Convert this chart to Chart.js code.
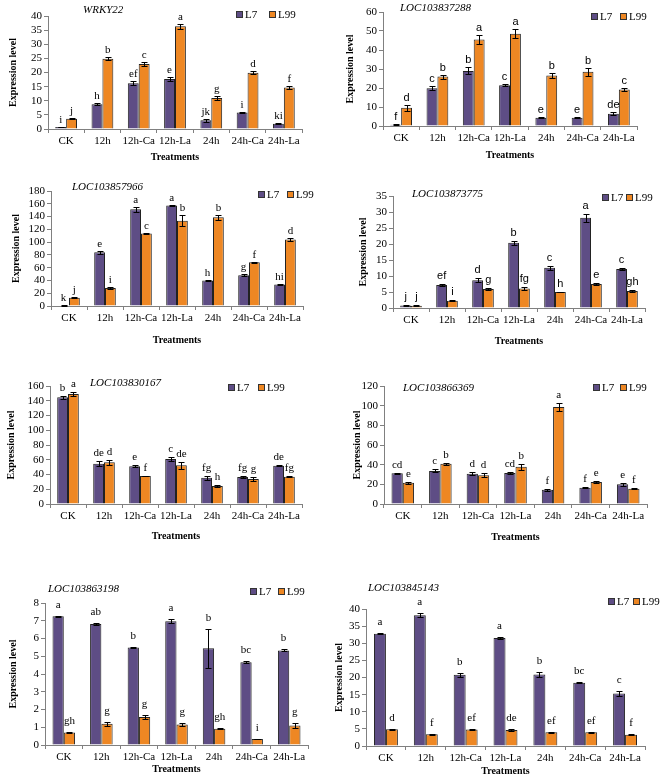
<!DOCTYPE html>
<html>
<head>
<meta charset="utf-8">
<script src="https://cdn.jsdelivr.net/npm/chart.js@4.4.0/dist/chart.umd.min.js"></script>
<style>
  html, body { margin: 0; padding: 0; background: #fff; }
  body { width: 669px; height: 780px; position: relative; overflow: hidden; }
  canvas { position: absolute; }
</style>
</head>
<body>
<script>
// treatments on every x axis
const categories = ['CK', '12h', '12h-Ca', '12h-La', '24h', '24h-Ca', '24h-La'];
const seriesNames = ['L7', 'L99'];

// WRKY22
const wrkyL7 = [0.7, 8.8, 16.2, 17.7, 3.1, 5.8, 1.9];
const wrkyL99 = [3.6, 24.9, 23.0, 36.4, 11.0, 19.9, 14.7];
const wrkyErrL7 = [0.1, 0.4, 0.8, 0.8, 0.6, 0.3, 0.1];
const wrkyErrL99 = [0.2, 0.6, 0.8, 0.9, 0.7, 0.6, 0.6];
const wrkySigL7 = ['i', 'h', 'ef', 'e', 'jk', 'i', 'ki'];
const wrkySigL99 = ['j', 'b', 'c', 'a', 'g', 'd', 'f'];

// LOC103837288
const loc288L7 = [0.7, 19.9, 29.0, 21.5, 4.4, 4.4, 6.5];
const loc288L99 = [9.6, 26.0, 45.5, 48.6, 26.6, 28.5, 19.2];
const loc288ErrL7 = [0.1, 1.2, 1.8, 0.4, 0.1, 0.2, 0.8];
const loc288ErrL99 = [1.5, 1.1, 2.5, 2.2, 1.1, 2.0, 0.8];
const loc288SigL7 = ['f', 'c', 'b', 'c', 'e', 'e', 'de'];
const loc288SigL99 = ['d', 'b', 'a', 'a', 'b', 'b', 'c'];

// LOC103857966
const loc966L7 = [0.8, 84, 151.5, 157.5, 40, 48, 33.5];
const loc966L99 = [13, 28, 113.5, 133.5, 139, 68.5, 104];
const loc966ErrL7 = [0.3, 2, 4, 1, 1, 1.5, 1];
const loc966ErrL99 = [1, 1, 1, 9, 4, 1, 3];
const loc966SigL7 = ['k', 'e', 'a', 'a', 'h', 'g', 'hi'];
const loc966SigL99 = ['j', 'i', 'c', 'b', 'b', 'f', 'd'];

// LOC103873775
const loc775L7 = [0.8, 7.2, 8.7, 20.4, 12.6, 28.2, 12.2];
const loc775L99 = [0.7, 2.3, 5.9, 6.1, 5.0, 7.5, 5.3];
const loc775ErrL7 = [0.1, 0.3, 0.6, 0.6, 0.6, 1.2, 0.2];
const loc775ErrL99 = [0.1, 0.05, 0.4, 0.4, 0.05, 0.3, 0.4];
const loc775SigL7 = ['j', 'ef', 'd', 'b', 'c', 'a', 'c'];
const loc775SigL99 = ['j', 'i', 'g', 'fg', 'h', 'e', 'gh'];

// LOC103830167
const loc167L7 = [144.6, 54.7, 51.1, 61.0, 35.7, 36.6, 52.0];
const loc167L99 = [149.2, 56.5, 38.0, 52.4, 24.4, 33.9, 37.1];
const loc167ErrL7 = [2, 3, 1.5, 3, 2.5, 1, 1];
const loc167ErrL99 = [2.5, 3, 0.5, 5, 1, 2.5, 0.5];
const loc167SigL7 = ['b', 'de', 'e', 'c', 'fg', 'fg', 'de'];
const loc167SigL99 = ['a', 'd', 'f', 'de', 'h', 'g', 'fg'];

// LOC103866369
const loc369L7 = [31.2, 33.6, 30.8, 31.5, 14.6, 16.6, 20.0];
const loc369L99 = [21.7, 41.0, 29.2, 38.0, 98.6, 22.4, 15.6];
const loc369ErrL7 = [0.8, 1.5, 1.5, 1, 1, 0.3, 1.5];
const loc369ErrL99 = [1, 1, 2, 3, 4, 1, 0.3];
const loc369SigL7 = ['cd', 'c', 'd', 'cd', 'f', 'f', 'e'];
const loc369SigL99 = ['e', 'b', 'd', 'b', 'a', 'e', 'f'];

// LOC103863198
const loc198L7 = [7.25, 6.82, 5.50, 6.97, 5.45, 4.66, 5.33];
const loc198L99 = [0.71, 1.2, 1.58, 1.15, 0.92, 0.34, 1.1];
const loc198ErrL7 = [0.02, 0.06, 0.01, 0.12, 1.1, 0.05, 0.06];
const loc198ErrL99 = [0.03, 0.12, 0.1, 0.08, 0.03, 0.02, 0.12];
const loc198SigL7 = ['a', 'ab', 'b', 'a', 'b', 'bc', 'b'];
const loc198SigL99 = ['gh', 'g', 'g', 'g', 'gh', 'i', 'g'];

// LOC103845143
const loc143L7 = [32.8, 38.2, 20.8, 31.5, 20.9, 18.5, 15.3];
const loc143L99 = [4.9, 3.4, 4.8, 4.7, 4.0, 4.0, 3.3];
const loc143ErrL7 = [0.2, 0.6, 0.6, 0.3, 0.8, 0.05, 0.8];
const loc143ErrL99 = [0.2, 0.2, 0.1, 0.4, 0.2, 0.2, 0.1];
const loc143SigL7 = ['a', 'a', 'b', 'a', 'b', 'bc', 'c'];
const loc143SigL99 = ['d', 'f', 'ef', 'de', 'ef', 'ef', 'f'];

const purple = 'rgb(94, 77, 133)';
const orange = 'rgb(238, 135, 35)';
const axisColor = '#808080';
const serif = "'Liberation Serif', 'Times New Roman', serif";
const sans = "'Liberation Sans', Arial, sans-serif";

// one entry per panel: gene data + where it sits on the page
const panels = [
  { gene: 'WRKY22', data: [wrkyL7, wrkyL99], err: [wrkyErrL7, wrkyErrL99], sig: [wrkySigL7, wrkySigL99],
    max: 40, step: 5, canvas: [0, 0, 335, 163], plot: [48, 16, 302, 129], yTitleX: 13,
    title: [83, 10], legend: [236, 269, 14], gap: 5, sigFont: serif },
  { gene: 'LOC103837288', data: [loc288L7, loc288L99], err: [loc288ErrL7, loc288ErrL99], sig: [loc288SigL7, loc288SigL99],
    max: 60, step: 10, canvas: [335, 0, 334, 161], plot: [383, 12, 637, 126], yTitleX: 350,
    title: [400, 8], legend: [591, 620, 16], gap: 5, sigFont: sans },
  { gene: 'LOC103857966', data: [loc966L7, loc966L99], err: [loc966ErrL7, loc966ErrL99], sig: [loc966SigL7, loc966SigL99],
    max: 180, step: 20, canvas: [0, 170, 335, 176], plot: [51, 191, 303, 306], yTitleX: 16,
    title: [72, 187], legend: [258, 287, 194], gap: 5, sigFont: serif },
  { gene: 'LOC103873775', data: [loc775L7, loc775L99], err: [loc775ErrL7, loc775ErrL99], sig: [loc775SigL7, loc775SigL99],
    max: 35, step: 5, canvas: [335, 170, 334, 177], plot: [393, 196, 645, 308], yTitleX: 363,
    title: [412, 194], legend: [602, 626, 197], gap: 6, sigFont: sans },
  { gene: 'LOC103830167', data: [loc167L7, loc167L99], err: [loc167ErrL7, loc167ErrL99], sig: [loc167SigL7, loc167SigL99],
    max: 160, step: 20, canvas: [0, 365, 335, 177], plot: [50, 386, 302, 504], yTitleX: 11,
    title: [90, 383], legend: [228, 258, 387], gap: 6, sigFont: serif },
  { gene: 'LOC103866369', data: [loc369L7, loc369L99], err: [loc369ErrL7, loc369ErrL99], sig: [loc369SigL7, loc369SigL99],
    max: 120, step: 20, canvas: [335, 365, 334, 178], plot: [384, 386, 647, 504], yTitleX: 357,
    title: [403, 388], legend: [593, 620, 387], gap: 6, sigFont: serif },
  { gene: 'LOC103863198', data: [loc198L7, loc198L99], err: [loc198ErrL7, loc198ErrL99], sig: [loc198SigL7, loc198SigL99],
    max: 8, step: 1, canvas: [0, 570, 335, 205], plot: [45, 603, 308, 745], yTitleX: 13,
    title: [48, 589], legend: [250, 278, 591], gap: 9, sigFont: serif },
  { gene: 'LOC103845143', data: [loc143L7, loc143L99], err: [loc143ErrL7, loc143ErrL99], sig: [loc143SigL7, loc143SigL99],
    max: 40, step: 5, canvas: [332, 570, 337, 207], plot: [366, 609, 645, 746], yTitleX: 339,
    title: [368, 588], legend: [608, 633, 601], gap: 9, sigFont: serif }
];

// error bars, significance letters, gene name and legend
const annotate = {
  id: 'annotate',
  afterDatasetsDraw(chart, args, opts) {
    const ctx = chart.ctx;
    const yScale = chart.scales.y;
    ctx.save();
    ctx.strokeStyle = '#000';
    ctx.lineWidth = 1;
    ctx.fillStyle = '#000';
    ctx.font = '11px ' + opts.sigFont;
    ctx.textAlign = 'center';
    ctx.textBaseline = 'alphabetic';
    opts.err.forEach((errs, i) => {
      const vals = chart.data.datasets[i].data;
      chart.getDatasetMeta(i).data.forEach((bar, j) => {
        const x = Math.round(bar.x) + 0.5;
        const top = Math.round(yScale.getPixelForValue(vals[j] + errs[j])) + 0.5;
        const bot = Math.round(yScale.getPixelForValue(Math.max(vals[j] - errs[j], 0))) + 0.5;
        ctx.beginPath();
        ctx.moveTo(x, top); ctx.lineTo(x, bot);
        ctx.moveTo(x - 3, top); ctx.lineTo(x + 3, top);
        ctx.moveTo(x - 3, bot); ctx.lineTo(x + 3, bot);
        ctx.stroke();
        ctx.fillText(opts.sig[i][j], bar.x, top - opts.gap);
      });
    });
    ctx.restore();
  },
  afterDraw(chart, args, opts) {
    const ctx = chart.ctx;
    const [ox, oy] = opts.origin;
    ctx.save();
    ctx.fillStyle = '#000';
    ctx.textBaseline = 'middle';
    ctx.textAlign = 'left';
    ctx.font = 'italic 11px ' + serif;
    ctx.fillText(opts.gene, opts.title[0] - ox, opts.title[1] - oy);
    const [sx1, sx2, sy] = opts.legend;
    [sx1, sx2].forEach((sx, i) => {
      ctx.fillStyle = i === 0 ? purple : orange;
      ctx.fillRect(sx - ox, sy - oy - 3, 7, 7);
      ctx.strokeStyle = '#333';
      ctx.lineWidth = 1;
      ctx.strokeRect(sx - ox + 0.5, sy - oy - 2.5, 6, 6);
      ctx.fillStyle = '#000';
      ctx.font = '11px ' + serif;
      ctx.fillText(seriesNames[i], sx - ox + 9, sy - oy + 1);
    });
    ctx.restore();
  }
};

panels.forEach(p => {
  const [cx, cy, cw, ch] = p.canvas;
  const [x0, y0, x1, y1] = p.plot;
  const canvas = document.createElement('canvas');
  canvas.width = cw;
  canvas.height = ch;
  canvas.style.left = cx + 'px';
  canvas.style.top = cy + 'px';
  document.body.appendChild(canvas);

  new Chart(canvas, {
    type: 'bar',
    data: {
      labels: categories,
      datasets: [
        { label: seriesNames[0], data: p.data[0], backgroundColor: purple, borderColor: '#222', borderWidth: 1 },
        { label: seriesNames[1], data: p.data[1], backgroundColor: orange, borderColor: '#222', borderWidth: 1 }
      ]
    },
    options: {
      responsive: false,
      animation: false,
      devicePixelRatio: 1,
      layout: { padding: { left: 0, top: y0 - cy, right: cx + cw - x1, bottom: 0 } },
      datasets: { bar: { categoryPercentage: 0.6, barPercentage: 1 } },
      plugins: {
        legend: { display: false },
        tooltip: { enabled: false },
        annotate: { err: p.err, sig: p.sig, gap: p.gap, sigFont: p.sigFont,
                    gene: p.gene, title: p.title, legend: p.legend, origin: [cx, cy] }
      },
      scales: {
        x: {
          grid: { display: true, drawOnChartArea: false, drawTicks: true, tickLength: 4, color: axisColor, offset: true },
          border: { display: true, color: axisColor },
          ticks: { color: '#000', font: { family: serif, size: 11 }, padding: 2, autoSkip: false, maxRotation: 0, minRotation: 0 },
          title: { display: true, text: 'Treatments', color: '#000',
                   font: { family: serif, size: 10, weight: 'bold' }, padding: { top: 0, bottom: 0 } },
          afterFit: s => { s.height = cy + ch - y1; }
        },
        y: {
          min: 0, max: p.max,
          grid: { display: true, drawOnChartArea: false, drawTicks: true, tickLength: 4, color: axisColor },
          border: { display: true, color: axisColor },
          ticks: { stepSize: p.step, autoSkip: false, color: '#000',
                   font: { family: serif, size: 11, lineHeight: 1 }, padding: 2 },
          title: { display: true, text: 'Expression level', color: '#000',
                   font: { family: serif, size: 10, weight: 'bold' }, padding: { top: Math.max(p.yTitleX - cx - 6, 0), bottom: 0 } },
          afterFit: s => { s.width = x0 - cx; }
        }
      }
    },
    plugins: [annotate]
  });
});
</script>
</body>
</html>
